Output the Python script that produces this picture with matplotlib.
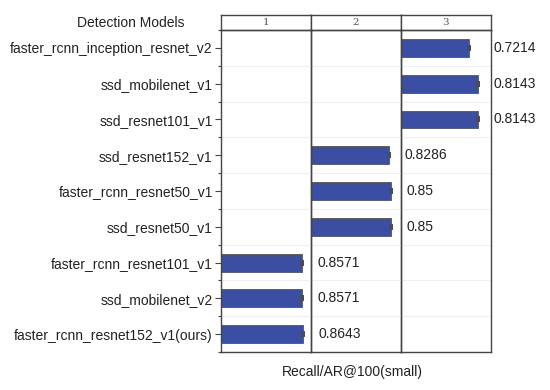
import matplotlib
matplotlib.use("Agg")
import matplotlib.pyplot as plt
import numpy as np

models = [
    "faster_rcnn_inception_resnet_v2",
    "ssd_mobilenet_v1",
    "ssd_resnet101_v1",
    "ssd_resnet152_v1",
    "faster_rcnn_resnet50_v1",
    "ssd_resnet50_v1",
    "faster_rcnn_resnet101_v1",
    "ssd_mobilenet_v2",
    "faster_rcnn_resnet152_v1(ours)",
]
values = [0.7214, 0.8143, 0.8143, 0.8286, 0.85, 0.85, 0.8571, 0.8571, 0.8643]
labels = ["0.7214", "0.8143", "0.8143", "0.8286", "0.85", "0.85", "0.8571", "0.8571", "0.8643"]
panel = [3, 3, 3, 2, 2, 2, 1, 1, 1]
panel_titles = ["1", "2", "3"]

plt.rcParams['font.family'] = ['Liberation Sans', 'DejaVu Sans']

W, H = 550, 390
fig = plt.figure(figsize=(W / 100, H / 100), dpi=100)

left_px, top_px, bottom_px = 221, 30, 352
pw = 90
strip_top = 15
n = len(models)
ypos = np.arange(n)[::-1]  # first model on top
bar_color = "#3a4fa3"
spine_c = "#444444"
xmax = 0.952
err_marker = [(-0.5, -1), (0.5, -1), (0.5, 1), (-0.5, 1), (-0.5, -1)]

axes = []
for i in range(3):
    ax = fig.add_axes([(left_px + i * pw) / W, (H - bottom_px) / H,
                       pw / W, (bottom_px - top_px) / H])
    ax.set_facecolor('none')
    ax.set_zorder(10 - i)
    axes.append(ax)
    sax = fig.add_axes([(left_px + i * pw) / W, (H - top_px) / H,
                        pw / W, (top_px - strip_top) / H])
    sax.set_xticks([]); sax.set_yticks([])
    for s in sax.spines.values():
        s.set_color(spine_c); s.set_linewidth(1.0)
    sax.text(0.5, 0.5, panel_titles[i], ha='center', va='center',
             fontsize=7.5, family='DejaVu Serif', color='#555555',
             transform=sax.transAxes)

    idx = [k for k in range(n) if panel[k] == i + 1]
    for y in np.arange(-0.5, n, 1.0):
        ax.axhline(y, color='#efefef', lw=0.8, zorder=0)
    ax.barh([ypos[k] for k in idx], [values[k] for k in idx], height=0.5,
            color=bar_color, edgecolor='#555555', linewidth=0.6, zorder=2)
    ax.plot([values[k] for k in idx], [ypos[k] for k in idx], linestyle='none',
            marker=err_marker, markersize=5, color='#4d4d4d',
            markeredgewidth=0, zorder=4)
    for k in idx:
        ax.text(max(values[k], 0.81) + 0.165, ypos[k], labels[k],
                ha='left', va='center', fontsize=10, color='#222222',
                clip_on=False, zorder=5)
    ax.set_xlim(0, xmax)
    ax.set_ylim(-0.5, n - 0.5)
    ax.set_xticks([])
    for s in ax.spines.values():
        s.set_color(spine_c); s.set_linewidth(1.0)
    if i == 0:
        ax.set_yticks(ypos)
        ax.set_yticklabels(models, fontsize=10, color='#222222')
        ax.set_yticks(np.arange(-0.5, n, 1.0), minor=True)
        ax.tick_params(axis='y', which='major', length=4, width=0.8,
                       color=spine_c, pad=2)
        ax.tick_params(axis='y', which='minor', length=2, width=0.8,
                       color=spine_c)
    else:
        ax.set_yticks([])

fig.text(131 / W, 1 - 23 / H, "Detection Models", ha='center', va='center',
         fontsize=10, color='#222222')
fig.text(352 / W, 1 - 372 / H, "Recall/AR@100(small)", ha='center',
         va='center', fontsize=10, color='#222222')

fig.savefig("out.png", dpi=100)
